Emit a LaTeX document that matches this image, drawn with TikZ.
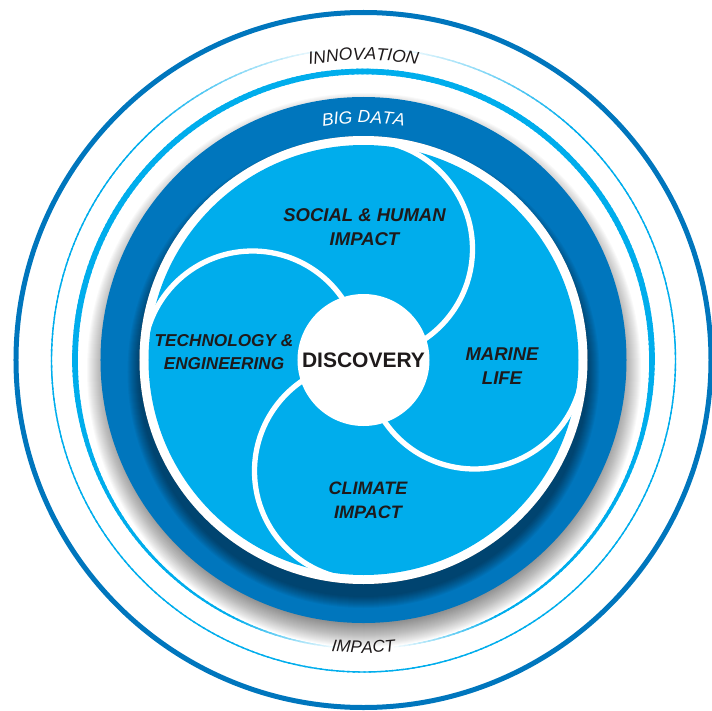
\documentclass[tikz,border=0pt]{standalone}
\usepackage{fontspec}
\setmainfont{Liberation Sans}
\usetikzlibrary{decorations.text}
\definecolor{lb}{RGB}{0,173,236}
\definecolor{db}{RGB}{0,118,189}
\definecolor{ink}{RGB}{30,26,27}
\begin{document}
\begin{tikzpicture}[x=1pt,y=1pt,
  lbl/.style={font=\fontsize{18.5}{24}\selectfont\bfseries\itshape, text=ink, align=center, inner sep=0pt},
  petal/.style={draw=white, line width=5.3pt},
  arctext/.style={decorate, decoration={text along path, text align=center, text color=#1}}]
\useasboundingbox (-363.5,-350) rectangle (348.5,360);
\begin{scope}
\clip (-363.5,-350) rectangle (348.5,360);
% outer dark circle
\draw[db, line width=5pt] (0,0) circle[radius=347.5pt];
% thin light line (fades at top)
\foreach \t in {0,1,...,359}{
  \ifnum\t>270 \pgfmathsetmacro\d{450-\t}\else\pgfmathsetmacro\d{abs(\t-90)}\fi
  \pgfmathtruncatemacro\p{min(100,max(0,(\d-6)/36*100))}
  \pgfmathsetmacro\te{\t+1.4}
  \ifnum\p>0
    \draw[line width=1.4pt, color=lb!\p!white] (\t:312pt) arc[start angle=\t, end angle=\te, radius=312pt];
  \fi
}
% thick light line (tapers and fades at bottom)
\foreach \t in {0,1,...,359}{
  \pgfmathsetmacro\w{5.7-4.3*max(0,-sin(\t))}
  \pgfmathsetmacro\d{abs(\t-270)}
  \pgfmathtruncatemacro\p{min(100,max(0,(\d-5)/22*100))}
  \pgfmathsetmacro\te{\t+1.4}
  \ifnum\p>0
    \draw[line width=\w pt, color=lb!\p!white] (\t:288.5pt) arc[start angle=\t, end angle=\te, radius=288.5pt];
  \fi
}
% drop shadow of the dark ring
\foreach \k in {1,...,24}{
  \pgfmathsetmacro\rr{253+\k}
  \fill[black, opacity=0.022] (0.5,-10) circle[radius=\rr pt];
}
% dark ring
\draw[db, line width=39pt] (0,0) circle[radius=243.5pt];
% inner shadow on the ring
\begin{scope}
  \clip (0,0) circle[radius=263pt];
  \foreach \k in {1,...,12}{
    \pgfmathsetmacro\rr{224+\k}
    \fill[black, opacity=0.04] (0,-12) circle[radius=\rr pt];
  }
\end{scope}
% white gap and light disk
\fill[white] (0,0) circle[radius=224pt];
\fill[lb] (0,0) circle[radius=215pt];
% petals
\begin{scope}
  \clip (0,0) circle[radius=216pt];
  \draw[petal] (-111,0) ++(175:109pt) arc[start angle=175, end angle=30, radius=109pt];
  \draw[petal] (0,111) ++(85:109pt) arc[start angle=85, end angle=-60, radius=109pt];
  \draw[petal] (111,0) ++(-5:109pt) arc[start angle=-5, end angle=-150, radius=109pt];
  \draw[petal] (0,-111) ++(-95:109pt) arc[start angle=-95, end angle=-240, radius=109pt];
\end{scope}
\end{scope}
% centre
\node[circle, fill=white, minimum size=132pt, inner sep=0pt, text=ink,
      font=\fontsize{21}{24}\selectfont\bfseries] (disc) at (0,0) {DISCOVERY};
% labels
\node[lbl] (social) at (1,133) {SOCIAL \& HUMAN\\IMPACT};
\node[lbl, font=\fontsize{17.2}{23}\selectfont\bfseries\itshape] (tech) at (-139.5,8) {TECHNOLOGY \&\\ENGINEERING};
\node[lbl] (marine) at (138.5,-6.5) {MARINE\\LIFE};
\node[lbl, font=\fontsize{18}{24}\selectfont\bfseries\itshape] (climate) at (4.5,-140.5) {CLIMATE\\IMPACT};
% curved texts
\path[arctext=ink, decoration={text={|\fontsize{17.5}{20}\selectfont\itshape|INNOVATION}}]
  (112:300pt) arc[start angle=112, end angle=68, radius=300pt];
\path[arctext=white, decoration={text={|\fontsize{17.5}{20}\selectfont\itshape|BIG DATA}}]
  (115:237pt) arc[start angle=115, end angle=65, radius=237pt];
\path[arctext=ink, decoration={text={|\fontsize{17}{20}\selectfont\itshape|IMPACT}}]
  (250:293pt) arc[start angle=250, end angle=290, radius=293pt];
\end{tikzpicture}
\end{document}
